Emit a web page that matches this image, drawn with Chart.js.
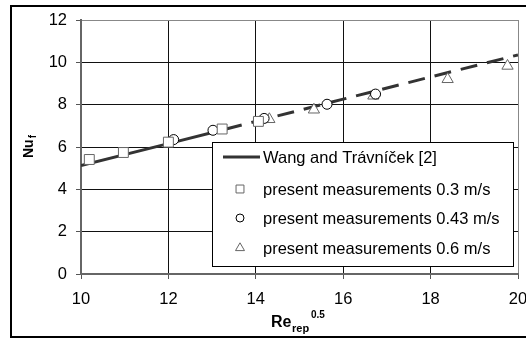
<!DOCTYPE html>
<html>
<head>
<meta charset="utf-8">
<script src="https://cdn.jsdelivr.net/npm/chart.js@4"></script>
<style>
  html, body { margin: 0; padding: 0; background: #fff; }
  canvas { display: block; }
</style>
</head>
<body>
<canvas id="nuChart" width="526" height="338"></canvas>
<script>
// values
const corrX = [10, 12, 13.3, 14, 16, 18, 20];
const corrY = [5.12, 6.16, 6.84, 7.21, 8.26, 9.31, 10.35];
const v03X = [10.19, 10.97, 12.0, 13.23, 14.06];
const v03Y = [5.41, 5.74, 6.23, 6.85, 7.21];
const v043X = [12.12, 13.02, 14.19, 15.63, 16.74];
const v043Y = [6.35, 6.79, 7.35, 8.02, 8.5];
const v06X = [14.31, 15.33, 16.69, 18.39, 19.76];
const v06Y = [7.31, 7.76, 8.42, 9.2, 9.83];
const xTicks = [10, 12, 14, 16, 18, 20];
const yTicks = [0, 2, 4, 6, 8, 10, 12];
const seriesLabels = [
  'Wang and Trávníček [2]',
  'present measurements 0.3 m/s',
  'present measurements 0.43 m/s',
  'present measurements 0.6 m/s'
];
const solidUntil = 13.3; // correlation drawn dashed beyond this

const FONT = "'Liberation Sans', Arial, sans-serif";
const toPts = (xs, ys) => xs.map((x, i) => ({ x: x, y: ys[i] }));

const markerSet = (label, xs, ys, style, radius, color) => ({
  label: label,
  data: toPts(xs, ys),
  showLine: false,
  pointStyle: style,
  pointRadius: radius,
  pointHoverRadius: radius,
  pointBackgroundColor: '#fff',
  pointBorderColor: color,
  pointBorderWidth: 1,
  order: 0
});

// legend box inside the plot + outer frame + axis titles with sub/superscripts
const extras = {
  id: 'extras',
  afterDraw(chart) {
    const c = chart.ctx;
    const ds = chart.data.datasets;
    c.save();

    // outer frame
    c.strokeStyle = '#000';
    c.lineWidth = 2;
    c.strokeRect(11, 6, 530, 331);

    // legend
    c.fillStyle = '#fff';
    c.fillRect(212, 142, 301, 124);
    c.lineWidth = 1;
    c.strokeStyle = '#000';
    c.strokeRect(212.5, 142.5, 301, 124);

    const rows = [157, 189, 218, 248];
    c.font = '16.5px ' + FONT;
    c.textBaseline = 'middle';
    c.textAlign = 'left';
    ds.forEach((d, i) => {
      const y = rows[i];
      if (i === 0) {
        c.strokeStyle = d.borderColor;
        c.lineWidth = d.borderWidth;
        c.setLineDash([]);
        c.beginPath();
        c.moveTo(223, y);
        c.lineTo(260, y);
        c.stroke();
      } else {
        c.fillStyle = d.pointBackgroundColor;
        c.strokeStyle = d.pointBorderColor;
        c.lineWidth = 1;
        Chart.helpers.drawPoint(c, {
          pointStyle: d.pointStyle,
          radius: d.pointRadius * 0.8,
          borderWidth: 1,
          rotation: 0
        }, 240, y);
      }
      c.fillStyle = '#000';
      c.fillText(d.label, 263, y + 1);
    });

    // y title: Nu_f
    c.save();
    c.translate(33, 158);
    c.rotate(-Math.PI / 2);
    c.fillStyle = '#000';
    c.textBaseline = 'alphabetic';
    c.font = 'bold 14px ' + FONT;
    c.fillText('Nu', 0, 0);
    const nuW = c.measureText('Nu').width;
    c.font = 'bold 10px ' + FONT;
    c.fillText('f', nuW + 1, 3);
    c.restore();

    // x title: Re_rep^0.5
    c.fillStyle = '#000';
    c.textBaseline = 'alphabetic';
    c.font = 'bold 16px ' + FONT;
    c.fillText('Re', 271, 327);
    c.font = 'bold 11px ' + FONT;
    c.fillText('rep', 292, 332);
    c.font = 'bold 10px ' + FONT;
    c.fillText('0.5', 311, 318);

    c.restore();
  }
};

new Chart(document.getElementById('nuChart'), {
  type: 'scatter',
  data: {
    datasets: [
      {
        label: seriesLabels[0],
        data: toPts(corrX, corrY),
        showLine: true,
        borderColor: '#333',
        borderWidth: 3,
        borderCapStyle: 'butt',
        pointRadius: 0,
        pointHoverRadius: 0,
        segment: {
          borderDash: ctx => ctx.p0.parsed.x >= solidUntil ? [17, 10] : undefined
        },
        order: 1
      },
      markerSet(seriesLabels[1], v03X, v03Y, 'rect', 7, '#666'),
      markerSet(seriesLabels[2], v043X, v043Y, 'circle', 5, '#000'),
      markerSet(seriesLabels[3], v06X, v06Y, 'triangle', 6.5, '#666')
    ]
  },
  options: {
    responsive: false,
    animation: false,
    events: [],
    layout: { padding: { left: 0, right: 7, top: 20, bottom: 0 } },
    plugins: {
      legend: { display: false },
      tooltip: { enabled: false }
    },
    scales: {
      x: {
        type: 'linear',
        min: xTicks[0],
        max: xTicks[xTicks.length - 1],
        afterBuildTicks: s => { s.ticks = xTicks.map(v => ({ value: v })); },
        afterFit: s => { s.height = 64; s.paddingLeft = 0; s.paddingRight = 0; },
        ticks: {
          color: '#000',
          font: { family: FONT, size: 16.5 },
          padding: 11,
          maxRotation: 0
        },
        grid: {
          color: ctx => (ctx.tick && ctx.tick.value === 20) ? '#888' : '#111',
          lineWidth: 1,
          tickLength: 5,
          tickColor: '#555'
        },
        border: { color: '#666', width: 2 }
      },
      y: {
        type: 'linear',
        min: yTicks[0],
        max: yTicks[yTicks.length - 1],
        afterBuildTicks: s => { s.ticks = yTicks.map(v => ({ value: v })); },
        afterFit: s => { s.width = 81; s.paddingTop = 0; s.paddingBottom = 0; },
        ticks: {
          color: '#000',
          font: { family: FONT, size: 16.5 },
          padding: 9
        },
        grid: {
          color: ctx => (ctx.tick && ctx.tick.value === 12) ? '#888' : '#111',
          lineWidth: 1,
          tickLength: 5,
          tickColor: '#555'
        },
        border: { color: '#666', width: 2 }
      }
    }
  },
  plugins: [extras]
});
</script>
</body>
</html>
